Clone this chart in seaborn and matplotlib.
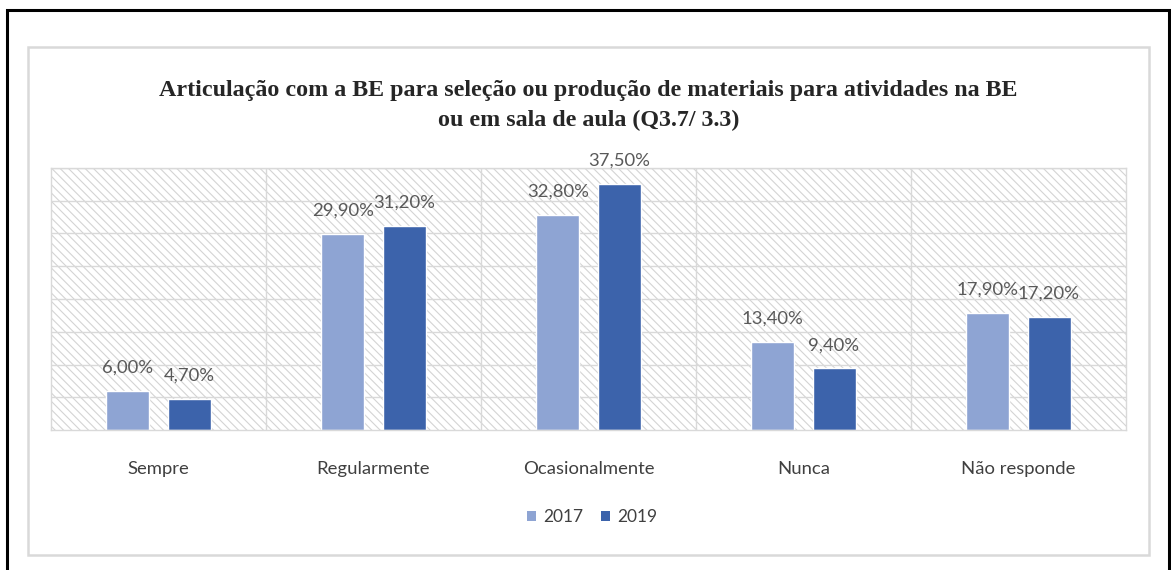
import pandas as pd
import matplotlib.pyplot as plt
import seaborn as sns
from matplotlib.patches import Rectangle, Patch

# Data
categorias = ["Sempre", "Regularmente", "Ocasionalmente", "Nunca", "Não responde"]
anos = ["2017", "2019"]
valores_2017 = [6.0, 29.9, 32.8, 13.4, 17.9]
valores_2019 = [4.7, 31.2, 37.5, 9.4, 17.2]
cores = ["#8EA4D3", "#3C63AB"]

titulo_1 = "Articulação com a BE para seleção ou produção de materiais para atividades na BE"
titulo_2 = "ou em sala de aula (Q3.7/ 3.3)"

df = pd.DataFrame({
    "categoria": categorias * 2,
    "ano": [anos[0]] * len(categorias) + [anos[1]] * len(categorias),
    "valor": valores_2017 + valores_2019,
})

sns.set_style("white")
plt.rcParams["font.family"] = ["Lato", "DejaVu Sans"]
plt.rcParams["hatch.linewidth"] = 0.8

W, H = 1171, 570
fig = plt.figure(figsize=(W / 100, H / 100), dpi=100)

# frames (pixel coords -> figure coords)
def px_rect(x0, y0, x1, y1, **kw):
    fig.add_artist(Rectangle((x0 / W, 1 - y1 / H), (x1 - x0) / W, (y1 - y0) / H,
                             transform=fig.transFigure, fill=False, **kw))

px_rect(7, 10, 1169, 600, edgecolor="black", linewidth=2.2)
px_rect(28, 47, 1149, 555, edgecolor="#d9d9d9", linewidth=1.8)

ax = fig.add_axes([51 / W, 1 - 430 / H, (1126 - 51) / W, (430 - 168) / H])

# hatched background
ax.add_patch(Rectangle((0, 0), 1, 1, transform=ax.transAxes, facecolor="white",
                       edgecolor="#d4d4d4", hatch="\\\\\\\\", linewidth=0, zorder=0))

sns.barplot(data=df, x="categoria", y="valor", hue="ano", palette=cores,
            width=0.568, gap=0.296, saturation=1, legend=False, ax=ax, zorder=2)

ax.set_ylim(0, 40)
ax.set_xlim(-0.5, len(categorias) - 0.5)
for y in range(5, 45, 5):
    ax.axhline(y, color="#d9d9d9", linewidth=1.0, zorder=1)
for x in [0.5, 1.5, 2.5, 3.5]:
    ax.axvline(x, color="#d9d9d9", linewidth=1.0, zorder=1)
for s in ax.spines.values():
    s.set_color("#d9d9d9")
    s.set_linewidth(1.0)

ax.set_yticks([])
ax.set_xlabel("")
ax.set_ylabel("")
ax.tick_params(axis="x", length=0, pad=22, labelsize=13.3, labelcolor="#404040")

for cont in ax.containers:
    ax.bar_label(cont, labels=[f"{v:.2f}".replace(".", ",") + "%" for v in cont.datavalues],
                 padding=11, fontsize=13.3, color="#595959")

fig.text(588.5 / W, 1 - 96 / H, titulo_1, ha="center", va="baseline",
         fontsize=17.3, fontweight="bold", family="Liberation Serif")
fig.text(588.5 / W, 1 - 126 / H, titulo_2, ha="center", va="baseline",
         fontsize=17.3, fontweight="bold", family="Liberation Serif")

handles = [Patch(facecolor=c, edgecolor="none") for c in cores]
fig.legend(handles, anos, loc="center", bbox_to_anchor=(592 / W, 1 - 517 / H),
           ncol=2, frameon=False, fontsize=12.5, handlelength=0.55, handleheight=0.55,
           handletextpad=0.4, columnspacing=1.0, labelcolor="#404040")

plt.savefig("out.png", dpi=100)
